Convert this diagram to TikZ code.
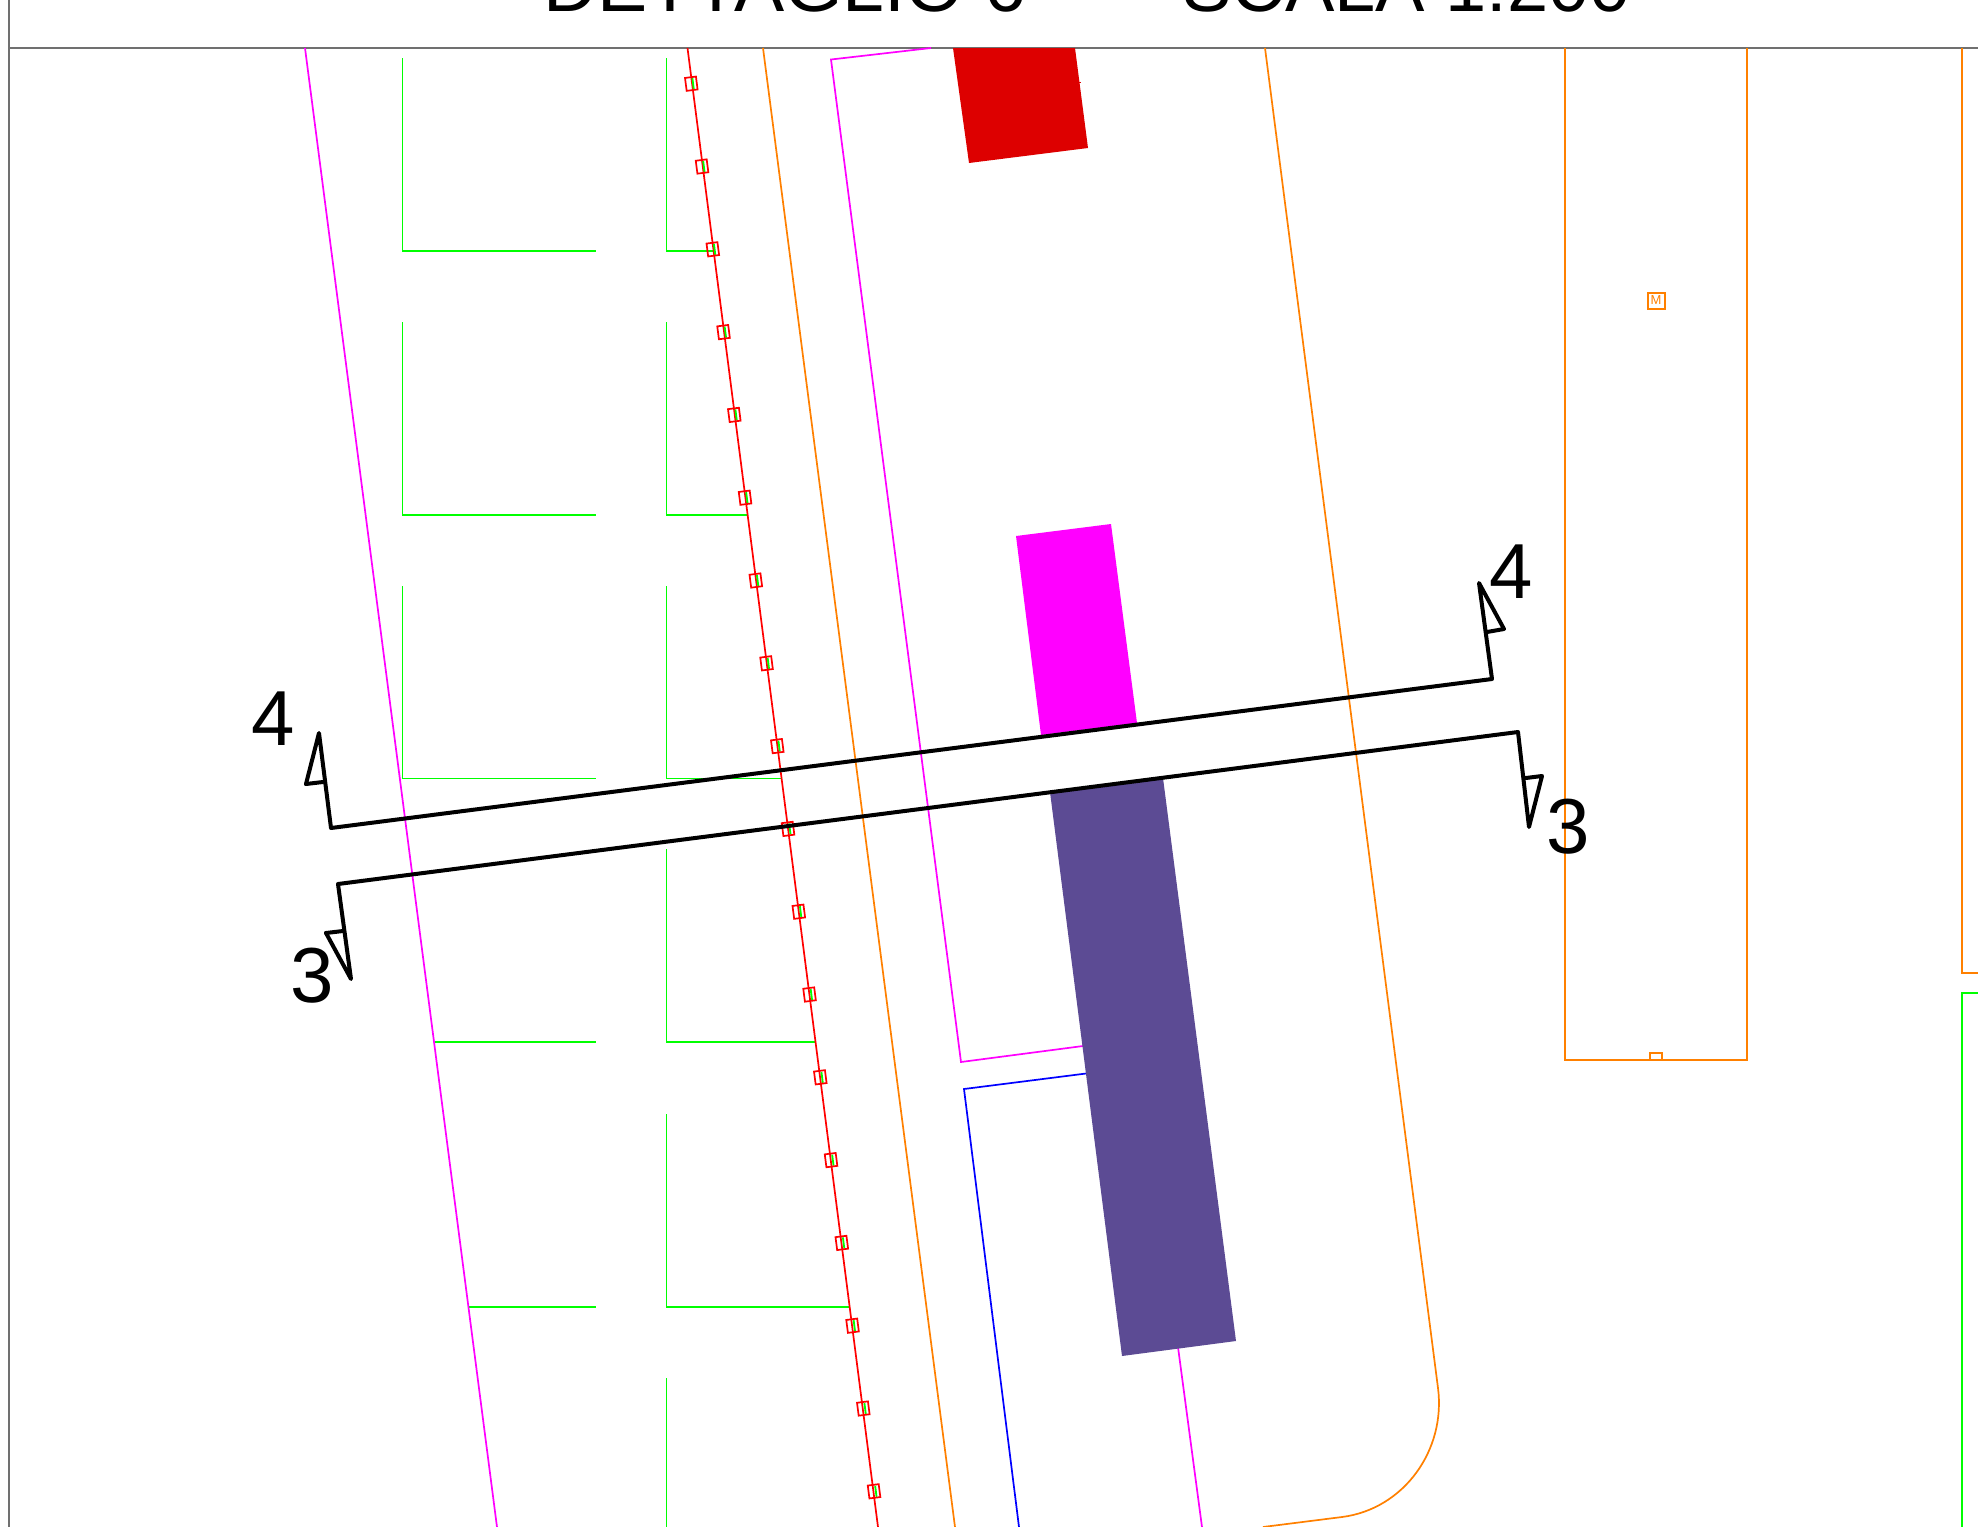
\documentclass[tikz,border=0pt]{standalone}
\usepackage{fontspec}
\setmainfont{Liberation Sans}
\definecolor{cadorange}{HTML}{FF8000}
\definecolor{cadred}{HTML}{DD0000}
\definecolor{cadpurple}{HTML}{5C4B94}
\definecolor{cadgray}{HTML}{707070}
\definecolor{cadmag}{HTML}{FF00FF}
\definecolor{cadgreen}{HTML}{00FF00}
\definecolor{cadblue}{HTML}{0000FF}
\definecolor{cadline}{HTML}{FF0000}
\tikzset{
  cad/.style={line width=0.85pt,line join=miter},
  mag/.style={cad,draw=cadmag},
  org/.style={cad,draw=cadorange},
  grn/.style={cad,draw=cadgreen},
  blu/.style={cad,draw=cadblue},
  rdl/.style={cad,draw=cadline},
  section/.style={draw=black,line width=2pt,line join=round,line cap=round},
  seclabel/.style={inner sep=0pt,anchor=base,font=\fontsize{39}{46}\selectfont},
  titletext/.style={inner sep=0pt,anchor=base west,font=\fontsize{37.6}{45}\selectfont},
}
\begin{document}
\begin{tikzpicture}[x=0.5pt,y=-0.5pt]
\clip (0,0) rectangle (1978,1527);
\fill[white] (0,0) rectangle (1978,1527);
% frame
\draw[cadgray,line width=0.6pt] (9,0) -- (9,1527);
\draw[cadgray,line width=1.2pt] (9,48) -- (1978,48);
% title
\node[titletext] (title1) at (543,11) {DETTAGLIO 6};
\node[titletext,font=\fontsize{37}{45}\selectfont] (title2) at (1182,11) {SCALA 1:200};
% green parking bays
\foreach \t/\b in {58/251,322/515,586/778.5}{
  \draw[grn] (402.5,\t) -- (402.5,\b) -- (596,\b);
}
\foreach \t/\b/\e in {58/251/713,322/515/747,586/778.5/781,849/1042/815,1114/1307/849}{
  \draw[grn] (666.5,\t) -- (666.5,\b) -- (\e,\b);
}
\draw[grn] (666.5,1378) -- (666.5,1527);
\draw[grn] (434,1042) -- (596,1042);
\draw[grn] (468,1307) -- (596,1307);
\draw[grn] (1978,993) -- (1962,993) -- (1962,1527);
% long lines
\draw[mag] (305,48) -- (497,1527);
\draw[org] (763,48) -- (955,1527);
\draw[org] (1265,48) -- (1438,1388) .. controls (1446,1450) and (1404,1509) .. (1342,1517) -- (1263,1527);
% magenta and blue outlines
\draw[mag] (931,48) -- (831,59.5) -- (961,1062) -- (1083,1046);
\draw[mag] (1178,1347) -- (1202,1527);
\draw[blu] (1090,1073) -- (964,1089) -- (1019,1527);
% filled blocks
\fill[cadred] (953,48) -- (1075,48) -- (1088,148) -- (969,163) -- cycle;
\draw[cadred,line width=0.5pt] (1078,82) -- (1081,82);
\fill[cadmag] (1016,536) -- (1111,524) -- (1137,723) -- (1041,735) -- cycle;
\fill[cadpurple] (1050,792) -- (1163,778) -- (1236,1341) -- (1122,1356) -- cycle;
% orange rectangles
\draw[org] (1565,48) -- (1565,1060) -- (1747,1060) -- (1747,48);
\draw[org] (1650,1060) -- (1650,1053) -- (1662,1053) -- (1662,1060);
\draw[org] (1962,48) -- (1962,973) -- (1978,973);
\node[draw=cadorange,line width=1pt,minimum width=8.5pt,minimum height=8pt,inner sep=0pt,text=cadorange,font=\fontsize{6.5}{7}\selectfont] (mbox) at (1656,300.5) {M};
% red line with bollards
\draw[rdl] (687.5,48) -- (878,1527);
\foreach \i in {0,...,17}{
  \pgfmathsetmacro{\cx}{691.3+\i*10.75}
  \pgfmathsetmacro{\cy}{83.7+\i*82.8}
  \draw[grn,line width=0.9pt] ({\cx+1.1},{\cy-5.5}) -- ({\cx+2.5},{\cy+5.5});
  \draw[rdl] ({\cx+6.29},{\cy+5.75}) -- ({\cx+4.63},{\cy-7.15}) -- ({\cx-6.29},{\cy-5.75}) -- ({\cx-4.63},{\cy+7.15}) -- cycle;
}
% section lines
\draw[section] (306,784) -- (319,733) -- (331,828) -- (1492,679) -- (1479,583) -- (1504,629) -- (1487,632);
\draw[section] (323,782) -- (306,784);
\draw[section] (326,933) -- (351,979) -- (338,884) -- (1518,732) -- (1529,827) -- (1542,776) -- (1526,778);
\draw[section] (343,931) -- (326,933);
\node[seclabel] (labelfourleft) at (273,745) {4};
\node[seclabel] (labelfourright) at (1511,598) {4};
\node[seclabel] (labelthreeleft) at (312,1002) {3};
\node[seclabel] (labelthreeright) at (1568,853) {3};
\end{tikzpicture}
\end{document}
